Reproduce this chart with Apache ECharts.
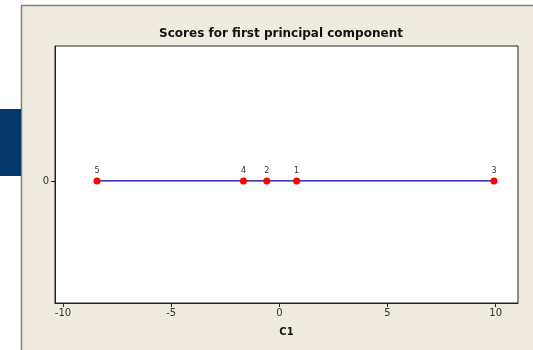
<!DOCTYPE html>
<html>
<head>
<meta charset="utf-8">
<script src="https://cdn.jsdelivr.net/npm/echarts@6/dist/echarts.min.js"></script>
<style>
  html, body { margin: 0; padding: 0; background: #ffffff; }
  #chart { width: 533px; height: 350px; }
</style>
</head>
<body>
<div id="chart"></div>
<script>
// Observation numbers and their scores on the first principal component (C1)
const obsLabels = ['1', '2', '3', '4', '5'];
const c1Scores = [0.80, -0.58, 9.92, -1.66, -8.43];
const xTicks = [-10, -5, 0, 5, 10];
const yTicks = [0];

// Points ordered along C1 so the connecting line runs left to right
const points = obsLabels
  .map((name, i) => ({ name: name, value: [c1Scores[i], 0] }))
  .sort((a, b) => a.value[0] - b.value[0]);

const chart = echarts.init(document.getElementById('chart'));
const font = 'DejaVu Sans';

chart.setOption({
  animation: false,
  backgroundColor: '#ffffff',
  title: {
    text: 'Scores for first principal component',
    left: 276,
    textAlign: 'center',
    top: 23,
    textStyle: { fontFamily: font, fontSize: 12, fontWeight: 'bold', color: '#111111' }
  },
  graphic: [
    // panel behind the plot
    {
      type: 'rect', z: -10, silent: true,
      shape: { x: 21.5, y: 5.5, width: 520, height: 350 },
      style: { fill: '#efebe1', stroke: '#808080', lineWidth: 1.5 }
    },
    // side tab
    {
      type: 'rect', z: -10, silent: true,
      shape: { x: 0, y: 109, width: 21, height: 67 },
      style: { fill: '#05386b' }
    }
  ],
  grid: {
    left: 55, top: 46, right: 15, bottom: 47,
    show: true, backgroundColor: '#ffffff', borderColor: '#222222', borderWidth: 1
  },
  xAxis: {
    type: 'value',
    min: -10.37, max: 11.03,
    name: 'C1',
    nameLocation: 'middle',
    nameGap: 24,
    nameTextStyle: { fontFamily: font, fontSize: 10, fontWeight: 'bold', color: '#111111' },
    splitLine: { show: false },
    axisLine: { show: true, onZero: false, lineStyle: { color: '#222222' } },
    axisTick: { show: true, length: 4, customValues: xTicks, lineStyle: { color: '#222222' } },
    axisLabel: { customValues: xTicks, fontFamily: font, fontSize: 10, color: '#333333', margin: 5 }
  },
  yAxis: {
    type: 'value',
    min: -1, max: 1.105,
    splitLine: { show: false },
    axisLine: { show: true, onZero: false, lineStyle: { color: '#222222' } },
    axisTick: { show: true, length: 4, customValues: yTicks, lineStyle: { color: '#222222' } },
    axisLabel: { customValues: yTicks, fontFamily: font, fontSize: 10, color: '#333333', margin: 6 }
  },
  series: [{
    type: 'line',
    data: points,
    symbol: 'circle',
    symbolSize: 7,
    itemStyle: { color: '#ff0000' },
    lineStyle: { color: '#0000a0', width: 1.2 },
    label: {
      show: true,
      position: 'top',
      distance: 2,
      formatter: p => p.name,
      fontFamily: font,
      fontSize: 8,
      color: '#333333'
    }
  }]
});
</script>
</body>
</html>
